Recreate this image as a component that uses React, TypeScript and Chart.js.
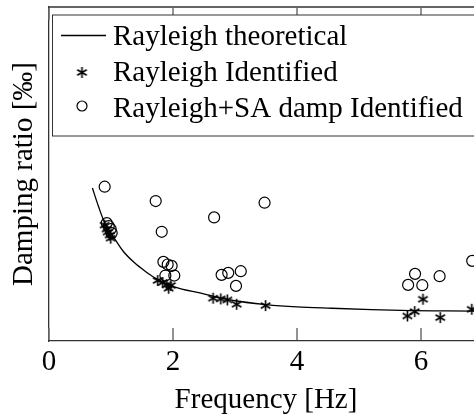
import React, { useEffect, useRef } from "react";
import { Chart, registerables } from "chart.js";

Chart.register(...registerables);

// Rayleigh theoretical curve
const theoX = [0.70, 0.80, 0.90, 1.06, 1.20, 1.38, 1.55, 1.70, 2.02, 2.45, 2.95, 3.50, 4.00, 4.56, 5.20, 5.84, 6.40, 7.00];
const theoY = [4.58, 4.02, 3.53, 3.06, 2.68, 2.34, 2.09, 1.90, 1.62, 1.43, 1.22, 1.09, 1.02, 0.98, 0.94, 0.91, 0.90, 0.89];

// Rayleigh identified (stars)
const rayX = [0.898, 0.931, 0.947, 0.979, 0.995, 1.754, 1.834, 1.901, 1.965, 1.930, 2.647, 2.771, 2.877, 3.027, 3.493, 5.781, 5.899, 6.032, 6.310, 6.819];
const rayY = [3.47, 3.35, 3.26, 3.17, 3.08, 1.81, 1.75, 1.68, 1.66, 1.58, 1.28, 1.26, 1.23, 1.10, 1.06, 0.75, 0.88, 1.25, 0.70, 0.95];

// Rayleigh + SA damp identified (circles)
const saX = [0.898, 0.931, 0.963, 0.995, 1.011, 1.721, 1.818, 1.845, 1.914, 1.978, 1.877, 2.021, 2.663, 3.477, 2.784, 2.891, 3.093, 3.016, 5.792, 5.904, 6.021, 6.300, 6.826];
const saY = [4.62, 3.53, 3.44, 3.35, 3.23, 4.19, 3.27, 2.37, 2.29, 2.25, 1.96, 1.96, 3.70, 4.14, 1.98, 2.04, 2.09, 1.65, 1.68, 2.01, 1.67, 1.94, 2.40];

const xTicks = [0, 2, 4, 6];
const labels = ["Rayleigh theoretical", "Rayleigh Identified", "Rayleigh+SA damp Identified"];
const xTitle = "Frequency [Hz]";
const yTitle = "Damping ratio [‰]";

const FONT = "'Liberation Serif', 'DejaVu Serif', serif";

function makeStar(): HTMLCanvasElement {
  const c = document.createElement("canvas");
  c.width = 13;
  c.height = 13;
  const g = c.getContext("2d")!;
  g.strokeStyle = "#000";
  g.lineWidth = 1.6;
  const r = 5.5;
  for (const a of [90, 30, 150]) {
    const t = (a * Math.PI) / 180;
    g.beginPath();
    g.moveTo(6.5 - r * Math.cos(t), 6.5 - r * Math.sin(t));
    g.lineTo(6.5 + r * Math.cos(t), 6.5 + r * Math.sin(t));
    g.stroke();
  }
  return c;
}

export default function App() {
  const ref = useRef<HTMLCanvasElement | null>(null);

  useEffect(() => {
    if (!ref.current) return;
    const star = makeStar();

    const framePlugin = {
      id: "frame",
      afterDraw(chart: any) {
        const { ctx, chartArea } = chart;
        const sx = chart.scales.x;
        ctx.save();
        const b = chartArea.bottom;
        const t = chartArea.top;
        // tick marks (inside, top and bottom)
        ctx.strokeStyle = "#707070";
        ctx.lineWidth = 1.5;
        ctx.beginPath();
        for (const v of xTicks) {
          const px = Math.round(sx.getPixelForValue(v));
          ctx.moveTo(px, b - 1);
          ctx.lineTo(px, b - 13);
          ctx.moveTo(px, t + 1);
          ctx.lineTo(px, t + 13);
        }
        ctx.stroke();
        // top/right frame
        ctx.strokeStyle = "#333";
        ctx.lineWidth = 1.3;
        ctx.beginPath();
        ctx.moveTo(chartArea.left, t);
        ctx.lineTo(chartArea.right, t);
        ctx.lineTo(chartArea.right, b);
        ctx.stroke();

        // legend
        const bx = chartArea.left + 3.5;
        const by = t + 8;
        const bw = chartArea.right - 3 - bx;
        const bh = 121;
        ctx.fillStyle = "#fff";
        ctx.fillRect(bx, by, bw, bh);
        ctx.strokeStyle = "#333";
        ctx.lineWidth = 1;
        ctx.strokeRect(bx, by, bw, bh);
        const rows = [45, 81, 116.5];
        const ds = chart.data.datasets;
        ctx.font = `29px ${FONT}`;
        ctx.fillStyle = "#000";
        ctx.textBaseline = "alphabetic";
        ctx.textAlign = "left";
        rows.forEach((y, i) => {
          ctx.fillText(ds[i].label, 113, y);
        });
        ctx.strokeStyle = "#000";
        ctx.lineWidth = 1.3;
        ctx.beginPath();
        ctx.moveTo(61, 35.5);
        ctx.lineTo(106, 35.5);
        ctx.stroke();
        ctx.drawImage(star, 82 - 6.5, 72.5 - 6.5);
        ctx.lineWidth = 1.2;
        ctx.beginPath();
        ctx.arc(82, 106, 5, 0, Math.PI * 2);
        ctx.stroke();
        ctx.restore();
      },
    };

    const chart = new Chart(ref.current, {
      type: "scatter",
      data: {
        datasets: [
          {
            type: "line",
            label: labels[0],
            data: theoX.map((x, i) => ({ x, y: theoY[i] })),
            borderColor: "#000",
            borderWidth: 1.3,
            pointRadius: 0,
            fill: false,
            cubicInterpolationMode: "monotone",
          } as any,
          {
            label: labels[1],
            data: rayX.map((x, i) => ({ x, y: rayY[i] })),
            pointStyle: star as any,
            pointRadius: 6,
            borderColor: "#000",
            backgroundColor: "#000",
          },
          {
            label: labels[2],
            data: saX.map((x, i) => ({ x, y: saY[i] })),
            pointStyle: "circle",
            pointRadius: 5.5,
            borderColor: "#000",
            borderWidth: 1.2,
            backgroundColor: "rgba(0,0,0,0)",
          },
        ],
      },
      options: {
        animation: false,
        responsive: false,
        maintainAspectRatio: false,
        layout: { padding: { top: 7, right: 5, bottom: 0, left: 0 } },
        plugins: { legend: { display: false }, tooltip: { enabled: false } },
        scales: {
          x: {
            type: "linear",
            min: 0,
            max: 7,
            ticks: {
              stepSize: 2,
              includeBounds: false,
              color: "#000",
              padding: 4,
              font: { family: FONT, size: 29 },
            },
            grid: { display: false, drawTicks: false },
            border: { display: true, color: "#333", width: 1.3 },
            title: {
              display: true,
              text: xTitle,
              color: "#000",
              font: { family: FONT, size: 29 },
              padding: { top: 0, bottom: 1.5 },
            },
            afterFit: (s: any) => {
              s.height = 78;
            },
          },
          y: {
            type: "linear",
            min: 0,
            max: 10,
            ticks: { display: false },
            grid: { display: false, drawTicks: false },
            border: { display: true, color: "#333", width: 1.3 },
            title: {
              display: true,
              text: yTitle,
              color: "#000",
              font: { family: FONT, size: 29 },
              padding: { top: 7, bottom: 0 },
            },
            afterFit: (s: any) => {
              s.width = 49;
            },
          },
        },
      },
      plugins: [framePlugin],
    });
    return () => chart.destroy();
  }, []);

  return (
    <div
      style={{
        position: "fixed",
        left: 0,
        top: 0,
        width: 474,
        height: 419,
        overflow: "hidden",
        background: "#fff",
      }}
    >
      <canvas ref={ref} width={490} height={419} style={{ display: "block", width: 490, height: 419 }} />
    </div>
  );
}
